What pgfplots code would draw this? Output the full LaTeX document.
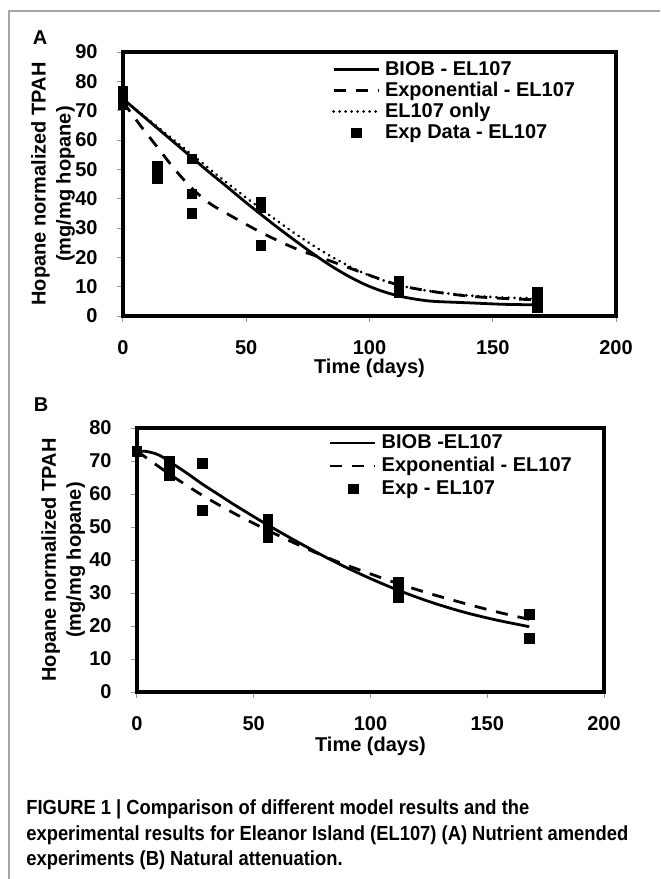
\documentclass[border=0pt]{standalone}
\usepackage{fontspec}
\setmainfont{Liberation Sans}
\newfontfamily\capfont{Liberation Sans}[FakeStretch=0.9]
\usepackage{pgfplots}
\pgfplotsset{compat=1.18}
\pgfplotsset{
  myaxis/.style={
    scale only axis, xmin=0, xmax=200, xtick={0,50,100,150,200}, ymin=0,
    tick align=outside, xtick pos=bottom, ytick pos=left,
    major tick length=3pt,
    tick style={gray!80, line width=0.5pt},
    axis line style={line width=2pt},
    /pgf/number format/assume math mode=true,
    tick label style={font=\fontsize{10}{12}\selectfont\bfseries},
    xticklabel style={yshift=-5.7pt},
    yticklabel style={xshift=-6.2pt},
    label style={font=\fontsize{10}{12.5}\selectfont\bfseries},
    ylabel style={align=center, anchor=center},
    legend image code/.code={\draw[##1] (0pt,0pt) -- (22.5pt,0pt);},
    legend style={draw=none, fill=none, inner sep=0pt, outer sep=0pt, column sep=2.5pt,
      font=\fontsize{10}{12}\selectfont\bfseries,
      nodes={inner sep=0pt, text height=7.2pt, text depth=1.8pt}, cells={anchor=west}},
  },
  solidc/.style={black, line width=1.4pt, smooth},
  dashedc/.style={black, line width=1.4pt, dash pattern=on 6pt off 5pt, smooth},
  dottedc/.style={black, line width=1.5pt, dash pattern=on 0.01pt off 3pt, line cap=round, smooth},
  sq/.style={only marks, mark=square*, mark size=2.4pt, black,
    legend image code/.code={\path[draw=none,fill=none] (0pt,0pt) (22.5pt,0pt);\draw[##1, only marks, mark repeat=1] plot coordinates {(11.5pt,0pt)};}},
}
\begin{document}
\begin{tikzpicture}
\path[use as bounding box] (0pt,0pt) rectangle (330pt,-439.5pt);
\draw[gray!70, line width=0.6pt] (4.5pt,-439.5pt) -- (4.5pt,-5.5pt) -- (330pt,-5.5pt);
\node[font=\fontsize{10}{12}\selectfont\bfseries] at (20pt,-19pt) {A};
\node[font=\fontsize{10}{12}\selectfont\bfseries] at (20.5pt,-202.5pt) {B};

% Panel A
\begin{axis}[myaxis,
  at={(61.5pt,-158pt)}, anchor=south west,
  width=246.5pt, height=132pt,
  ymax=90, ytick={0,10,...,90},
  xlabel={Time (days)},
  ylabel={Hopane normalized TPAH\\(mg/mg hopane)},
  xlabel style={at={(axis description cs:0.5,-0.197)}, anchor=center},
  ylabel style={at={(axis description cs:-0.142,0.5)}},
  legend style={at={(axis description cs:0.424,0.967)}, anchor=north west, row sep=1.5pt},
]
\addplot[solidc] coordinates {(0,74) (7,69) (14,64) (21,59) (28,54) (35,49) (42,44.2) (49,39.3) (56,34.6) (63,30) (70,25.6) (77,21.3) (84,17.3) (91,13.8) (98,10.8) (105,8.5) (112,6.8) (119,5.7) (126,5.0) (140,4.5) (154,4.0) (168,3.8)};
\addlegendentry{BIOB - EL107}
\addplot[dashedc] coordinates {(0,73) (7,65) (14,57.5) (21,50) (28,43.5) (35,38.5) (42,35) (56,28.5) (70,23) (84,18.8) (98,14.5) (112,10.5) (126,8.3) (140,6.8) (154,6) (168,5.5)};
\addlegendentry{Exponential - EL107}
\addplot[dottedc] coordinates {(0,74) (14,64.5) (28,55) (42,45.5) (56,36.5) (70,28) (84,20.5) (98,14.5) (112,10.5) (126,8.3) (140,7) (154,6.3) (168,6)};
\addlegendentry{EL107 only}
\addplot[sq] coordinates {(0,72) (0,74.5) (0,76.5) (14,47) (14,49) (14,51) (28,53.5) (28,41.6) (28,35) (56,36.8) (56,38.9) (56,24) (112,8) (112,10) (112,12) (168,3) (168,5.5) (168,8)};
\addlegendentry{Exp Data - EL107}
\end{axis}

% Panel B
\begin{axis}[myaxis,
  at={(68.5pt,-346pt)}, anchor=south west,
  width=233.5pt, height=132pt,
  ymax=80, ytick={0,10,...,80},
  xlabel={Time (days)},
  ylabel={Hopane normalized TPAH\\(mg/mg hopane)},
  xlabel style={at={(axis description cs:0.5,-0.2045)}, anchor=center},
  ylabel style={at={(axis description cs:-0.158,0.5)}},
  legend style={at={(axis description cs:0.411,0.977)}, anchor=north west, row sep=2.5pt},
]
\addplot[solidc] coordinates {(0,73) (4,72.9) (8,72.2) (11,71.2) (14,69.8) (21,66.5) (28,63) (35,59.8) (42,56.6) (56,50.6) (70,45) (84,39.7) (98,35) (112,30.8) (126,27.2) (140,24.2) (154,21.8) (168,19.8)};
\addlegendentry{BIOB -EL107}
\addplot[dashedc] coordinates {(0,73) (14,66) (28,59.6) (42,54) (56,49) (70,44.3) (84,40) (98,36.3) (112,32.8) (126,29.7) (140,26.9) (154,24.3) (168,22)};
\addlegendentry{Exponential - EL107}
\addplot[sq] coordinates {(0,73) (14,70) (14,68.5) (14,65.5) (28,69.2) (28,55.1) (56,52.3) (56,49.5) (56,46.8) (112,33.2) (112,31) (112,28.6) (168,23.6) (168,16.3)};
\addlegendentry{Exp - EL107}
\end{axis}

\node[anchor=base west, inner sep=0pt, font=\capfont\bfseries\fontsize{10.2}{12}\selectfont] at (13pt,-407pt) {FIGURE 1 | Comparison of different model results and the};
\node[anchor=base west, inner sep=0pt, font=\capfont\bfseries\fontsize{10.2}{12}\selectfont] at (13pt,-420pt) {experimental results for Eleanor Island (EL107) (A) Nutrient amended};
\node[anchor=base west, inner sep=0pt, font=\capfont\bfseries\fontsize{10.2}{12}\selectfont] at (13pt,-432.5pt) {experiments (B) Natural attenuation.};
\end{tikzpicture}
\end{document}
